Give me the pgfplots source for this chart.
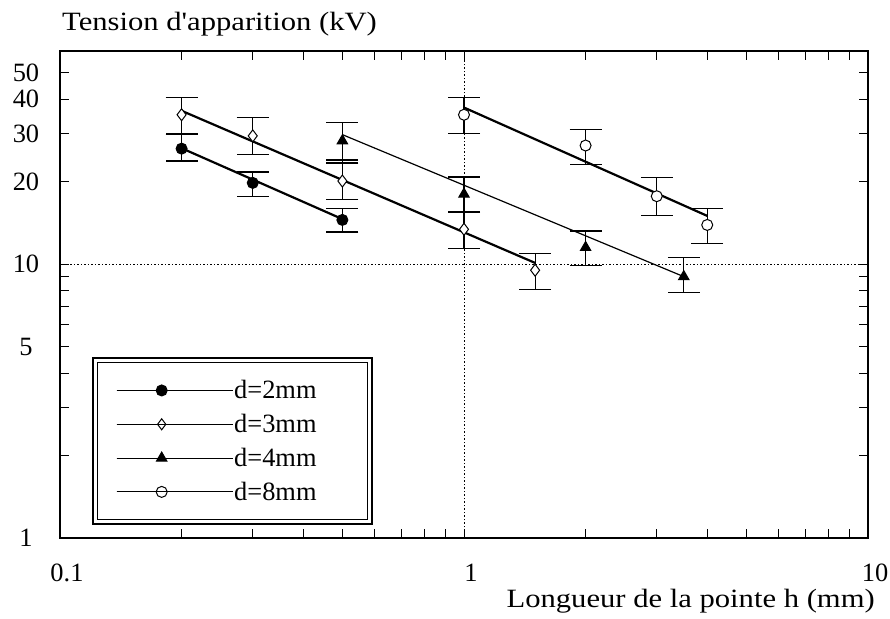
\documentclass[border=0pt]{standalone}
\usepackage{pgfplots}
\pgfplotsset{compat=1.18}
\usepackage{fontspec}
\setmainfont{Liberation Serif}
\usepackage{graphicx}
\newcommand\fs{\fontsize{26.5}{31}\selectfont}

\begin{document}
\begin{tikzpicture}
\begin{axis}[
  xmode=log, ymode=log,
  scale only axis, width=808bp, height=487bp,
  xmin=0.1, xmax=10, ymin=1, ymax=60,
  axis line style={line width=1.4bp},
  xtick={0.1,1,10}, xticklabels={0.1,1,10},
  ytick={1,10}, yticklabels={1,10},
  minor xtick={0.2,0.3,0.4,0.5,0.6,0.7,0.8,0.9,2,3,4,5,6,7,8,9},
  minor ytick={2,3,4,6,7,8,9},
  extra y ticks={5,20,30,40,50}, extra y tick labels={5,20,30,40,50},
  extra y tick style={grid=none},
  grid=major,
  major grid style={black, line width=0.9bp, dash pattern=on 1.5bp off 2bp},
  tick style={black, line width=1bp},
  major tick length=9bp, minor tick length=9bp,
  tick align=inside,
  /pgf/number format/assume math mode=true,
  xticklabel style={font=\fs, inner sep=0pt, anchor=center, yshift=-35bp, xshift=7bp},
  yticklabel style={font=\fs, inner sep=0pt, anchor=center, xshift=-34bp},
  legend style={draw=none, fill=none, inner sep=0pt, at={(rel axis cs:0,0)}, anchor=south west,
    xshift=56bp, yshift=35bp, font=\fs, row sep=12bp, nodes={inner sep=1bp}},
  legend cell align=left,
  legend image code/.code={\draw[mark repeat=2,mark phase=2] plot coordinates {(0bp,0bp)(45bp,0bp)(90bp,0bp)};
    \path (0bp,0bp) -- (116bp,0bp);},
  every axis plot/.append style={black},
  ebar/.style={error bars/.cd, y dir=both, y explicit,
    error bar style={line width=1.2bp, black},
    error mark options={rotate=90, mark size=16bp, line width=1.2bp, black}},
]
% legend images
\addlegendimage{black, line width=1bp, mark=*, mark size=5.5bp, mark options={fill=black, solid}}
\addlegendentry{d=2mm}
\addlegendimage{black, line width=1bp, mark=diamond, mark size=5.5bp, mark options={fill=white, solid}}
\addlegendentry{d=3mm}
\addlegendimage{black, line width=1bp, mark=triangle*, mark size=6bp, mark options={fill=black, solid}}
\addlegendentry{d=4mm}
\addlegendimage{black, line width=1bp, mark=o, mark size=5.5bp, mark options={fill=white, solid}}
\addlegendentry{d=8mm}

% fitted lines
\addplot[black, line width=2.2bp, forget plot] coordinates {(0.2,26.5) (0.5,14.6)};
\addplot[black, line width=2.2bp, forget plot] coordinates {(0.2,36.3) (1.5,10.1)};
\addplot[black, line width=1.2bp, forget plot] coordinates {(0.5,29.7) (3.5,9.0)};
\addplot[black, line width=2.2bp, forget plot] coordinates {(1,37.3) (4,15.0)};

% d=2mm
\addplot[only marks, forget plot, mark=*, mark size=5.5bp, mark options={fill=black, line width=1bp}, ebar]
coordinates {
(0.2,26.4) += (0,3.3) -= (0,2.6)
(0.3,19.8) += (0,1.9) -= (0,2.1)
(0.5,14.5) += (0,1.5) -= (0,1.4)
};
% d=3mm
\addplot[only marks, forget plot, mark=diamond*, mark size=6bp, mark options={fill=white, line width=1bp}, ebar]
coordinates {
(0.2,35.1) += (0,5.5) -= (0,5.1)
(0.3,29.4) += (0,4.9) -= (0,4.3)
(0.5,20.1) += (0,3.9) -= (0,2.9)
(1,13.4) += (0,2.1) -= (0,2.0)
(1.5,9.5) += (0,1.4) -= (0,1.4)
};
% d=4mm
\addplot[only marks, forget plot, mark=triangle*, mark size=6bp, mark options={fill=black, line width=1bp}, ebar]
coordinates {
(0.5,28.2) += (0,4.6) -= (0,4.8)
(1,18.0) += (0,2.8) -= (0,2.5)
(2,11.5) += (0,1.7) -= (0,1.6)
(3.5,9.0) += (0,1.6) -= (0,1.1)
};
% d=8mm
\addplot[only marks, forget plot, mark=*, mark size=5.5bp, mark options={fill=white, line width=1bp}, ebar]
coordinates {
(1,35.1) += (0,5.5) -= (0,5.2)
(2,27.1) += (0,3.9) -= (0,4.0)
(3,17.7) += (0,3.0) -= (0,2.6)
(4,13.9) += (0,2.1) -= (0,2.0)
};
\end{axis}
% legend frame
\draw[line width=2.4bp] (33bp,14bp) rectangle (312bp,180bp);
\draw[line width=1.1bp] (37.5bp,18.5bp) rectangle (307.5bp,175.5bp);
% titles
\node[anchor=base west, font=\fs, inner sep=0pt] at (2bp,507bp) {\scalebox{1.16}[1]{Tension d\textquotesingle apparition (kV)}};
\node[anchor=base east, font=\fs, inner sep=0pt] at (815bp,-69bp) {\scalebox{1.16}[1]{Longueur de la pointe h (mm)}};
\pgfresetboundingbox
\path (-60bp,-81bp) rectangle (830bp,538bp);
\end{tikzpicture}
\end{document}
